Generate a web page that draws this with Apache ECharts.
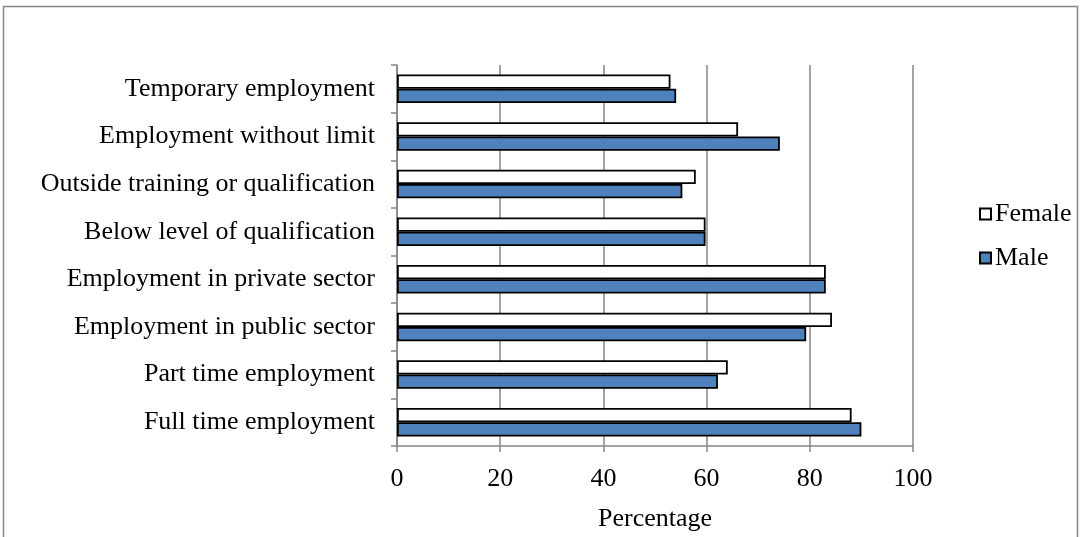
<!DOCTYPE html>
<html>
<head>
<meta charset="utf-8">
<script src="https://cdn.jsdelivr.net/npm/echarts@6/dist/echarts.min.js"></script>
<style>
html,body{margin:0;padding:0;background:#fff;}
#c{width:1081px;height:537px;}
</style>
</head>
<body>
<div id="c"></div>
<script>
// Categories listed bottom to top (as drawn on the value-axis chart)
const categories = [
  'Full time employment',
  'Part time employment',
  'Employment in public sector',
  'Employment in private sector',
  'Below level of qualification',
  'Outside training or qualification',
  'Employment without limit',
  'Temporary employment'
];
const femaleValues = [88.1, 64.1, 84.3, 83.1, 59.8, 57.9, 66.1, 53.0];
const maleValues   = [90.0, 62.2, 79.3, 83.1, 59.8, 55.3, 74.2, 54.1];
const xTicks = [0, 20, 40, 60, 80, 100];

const FONT = 'Liberation Serif';
const FS = 26;
const chart = echarts.init(document.getElementById('c'), null, {renderer: 'canvas'});
chart.setOption({
  animation: false,
  backgroundColor: '#fff',
  textStyle: {fontFamily: FONT, color: '#000'},
  graphic: [{
    type: 'rect', silent: true,
    shape: {x: 3.5, y: 6.5, width: 1074, height: 540},
    style: {fill: 'none', stroke: '#868686', lineWidth: 1.5}
  }],
  legend: {
    orient: 'vertical',
    left: 974, top: 196,
    itemGap: 18,
    itemWidth: 11, itemHeight: 11,
    icon: 'rect',
    textStyle: {fontFamily: FONT, fontSize: FS, color: '#000', padding: [0,0,0,-1]},
    data: ['Female', 'Male']
  },
  grid: {left: 397, right: 168, top: 65, bottom: 90, containLabel: false},
  xAxis: {
    type: 'value', min: xTicks[0], max: xTicks[xTicks.length-1], interval: 20,
    name: 'Percentage', nameLocation: 'middle', nameGap: 60,
    nameTextStyle: {fontFamily: FONT, fontSize: FS, color: '#000'},
    axisLine: {show: true, lineStyle: {color: '#868686', width: 1.5}},
    axisTick: {show: true, length: 6, lineStyle: {color: '#868686', width: 1.5}},
    axisLabel: {fontFamily: FONT, fontSize: FS, color: '#000', margin: 20},
    splitLine: {show: true, lineStyle: {color: '#868686', width: 1.5}}
  },
  yAxis: {
    type: 'category', data: categories,
    axisLine: {show: true, lineStyle: {color: '#868686', width: 1.5}},
    axisTick: {show: true, length: 6, lineStyle: {color: '#868686', width: 1.5}},
    axisLabel: {fontFamily: FONT, fontSize: FS, color: '#000', margin: 22},
    splitLine: {show: false}
  },
  series: [
    {
      name: 'Female', type: 'bar', data: femaleValues,
      barWidth: 14.3, barGap: '0%',
      itemStyle: {color: '#ffffff', borderColor: '#000', borderWidth: 1.8}
    },
    {
      name: 'Male', type: 'bar', data: maleValues,
      barWidth: 14.3, barGap: '0%',
      itemStyle: {color: '#4f81bd', borderColor: '#000', borderWidth: 1.8}
    }
  ]
});
</script>
</body>
</html>
